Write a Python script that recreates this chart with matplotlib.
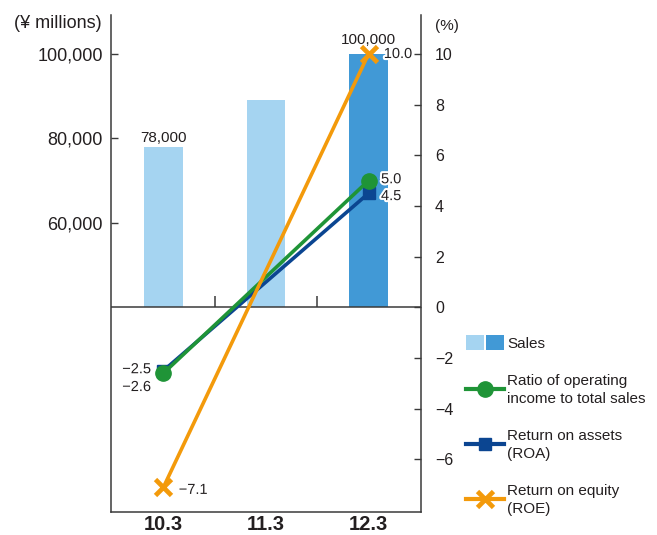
import matplotlib.pyplot as plt
import matplotlib.patheffects as pe
from matplotlib.lines import Line2D
from matplotlib.patches import Patch
from matplotlib.legend_handler import HandlerTuple
from matplotlib.ticker import FuncFormatter

plt.rcParams['font.family'] = ['Liberation Sans', 'DejaVu Sans']

# fiscal years and data
years = ['10.3', '11.3', '12.3']
sales = [78000, 89000, 100000]
sales_labels = ['78,000', '', '100,000']
ratio_x = [0, 2]              # ratios are reported for 10.3 and 12.3 only
op_ratio = [-2.6, 5.0]
roa = [-2.5, 4.5]
roe = [-7.1, 10.0]

light_blue = '#a5d4f1'
dark_blue = '#4199d6'
green = '#1f9437'
navy = '#0b4591'
orange = '#f39a0b'
ink = '#231f20'
axis_col = '#3a3a3a'

# percent scale, sales scale is tied to it (40,000 at 0%, +6,000 per 1%)
pct_lo, pct_hi = -8.07, 11.54
base = 40000
per_pct = 6000

fig = plt.figure(figsize=(6.57, 5.35), dpi=100)
ax = fig.add_axes([111 / 657, (535 - 511.7) / 535, 310 / 657, 496.7 / 535])
ax.set_xlim(-0.512, 2.512)
ax.set_ylim(base + per_pct * pct_lo, base + per_pct * pct_hi)

x = list(range(len(years)))
ax.bar(x, [s - base for s in sales], bottom=base, width=0.38,
       color=[light_blue, light_blue, dark_blue], zorder=1)
for xi, s, lab, dy in zip(x, sales, sales_labels, [1.5, 0, 5]):
    if lab:
        ax.annotate(lab, (xi, s), xytext=(0, dy), textcoords='offset points',
                    ha='center', va='bottom', fontsize=11, color=ink)

ax.set_yticks([60000, 80000, 100000])
ax.yaxis.set_major_formatter(FuncFormatter(lambda v, p: f'{v:,.0f}'))
ax.tick_params(axis='y', direction='in', length=5, width=1, color=axis_col,
               labelsize=13, labelcolor=ink, pad=6)
ax.set_xticks(x)
ax.set_xticklabels(years, fontsize=14.5, fontweight='bold', color=ink)
ax.tick_params(axis='x', length=0, pad=2.5)
for side in ['top', 'right']:
    ax.spines[side].set_visible(False)
for side in ['left', 'bottom']:
    ax.spines[side].set_color(axis_col)
    ax.spines[side].set_linewidth(1.1)

axr = ax.twinx()
axr.set_ylim(pct_lo, pct_hi)
axr.set_yticks(range(-6, 11, 2))
axr.tick_params(axis='y', direction='in', length=5, width=1, color=axis_col,
                labelsize=11.5, labelcolor=ink, pad=10)
for side in ['top', 'left', 'bottom']:
    axr.spines[side].set_visible(False)
axr.spines['right'].set_color(axis_col)
axr.spines['right'].set_linewidth(1.1)

# zero line with small separators between years
axr.axhline(0, color=axis_col, lw=1.1, zorder=2)
axr.vlines([0.5, 1.5], 0, 0.43, color=axis_col, lw=1.1, zorder=2)

axr.plot(ratio_x, roa, color=navy, lw=2.6, marker='s', ms=9, zorder=3)
axr.plot(ratio_x, op_ratio, color=green, lw=2.6, marker='o', ms=11, zorder=4)
axr.plot(ratio_x, roe, color=orange, lw=2.6, marker='x', ms=11, mew=3.4, zorder=5)

halo = [pe.withStroke(linewidth=3, foreground='white')]


def fmt(v):
    return f'{v:.1f}'.replace('-', '\u2212')


def tag(xv, yv, dx, dy, ha):
    axr.annotate(fmt(yv), (xv, yv), xytext=(dx, dy), textcoords='offset points',
                 ha=ha, va='center', fontsize=10.5, color=ink,
                 path_effects=halo, zorder=6)


tag(ratio_x[1], roe[1], 11, 0, 'left')
tag(ratio_x[1], op_ratio[1], 9, 1, 'left')
tag(ratio_x[1], roa[1], 9, -2, 'left')
tag(ratio_x[0], roa[0], -9, 1, 'right')
tag(ratio_x[0], op_ratio[0], -9, -10, 'right')
tag(ratio_x[0], roe[0], 11, -2, 'left')

fig.text(102 / 657, 1 - 23 / 535, '(\u00a5 millions)', ha='right', va='center',
         fontsize=13, color=ink)
fig.text(435 / 657, 1 - 26 / 535, '(%)', ha='left', va='center',
         fontsize=11, color=ink)

handles = [
    (Patch(facecolor=light_blue), Patch(facecolor=dark_blue)),
    Line2D([], [], color=green, lw=3, marker='o', ms=11),
    Line2D([], [], color=navy, lw=3, marker='s', ms=9),
    Line2D([], [], color=orange, lw=3, marker='x', ms=11, mew=3.4),
]
labels = ['Sales', 'Ratio of operating\nincome to total sales',
          'Return on assets\n(ROA)', 'Return on equity\n(ROE)']
leg = fig.legend(handles, labels,
                 handler_map={tuple: HandlerTuple(ndivide=None, pad=0.12)},
                 loc='upper left', bbox_to_anchor=(466 / 657, 1 - 335 / 535),
                 frameon=False, fontsize=11, handlelength=2.5, handleheight=1.15,
                 handletextpad=0.2, labelspacing=1.55, borderpad=0,
                 borderaxespad=0)
for t in leg.get_texts():
    t.set_linespacing(1.3)
    t.set_color(ink)

fig.savefig('out.png', dpi=100)
